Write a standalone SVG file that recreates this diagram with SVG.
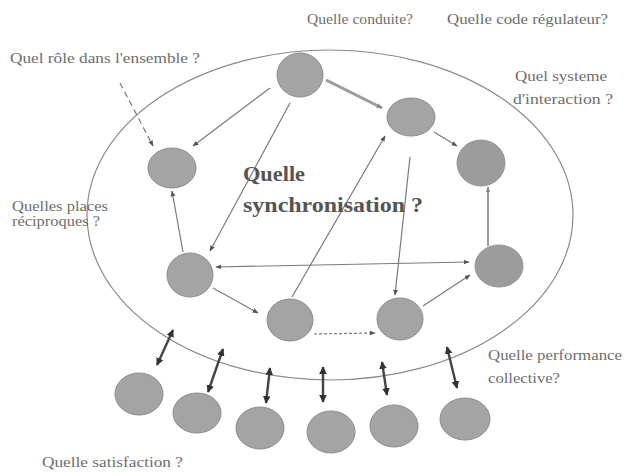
<svg xmlns="http://www.w3.org/2000/svg" width="627" height="476" viewBox="0 0 627 476">
<style>
text{font-family:'Liberation Serif','DejaVu Serif',serif}
.lbl{font-size:14px;fill:#6e6e6e}
.big{font-size:20px;font-weight:bold;fill:#555}
.nd{fill:#a4a4a4;stroke:#8c8c8c;stroke-width:1}
.nf{fill:#9c9c9c;stroke:#959595;stroke-width:1}
.ln{stroke:#7a7a7a;stroke-width:1.2;fill:none;marker-end:url(#ah)}
.dbl{stroke:#444;stroke-width:2.4;fill:none;marker-start:url(#ad);marker-end:url(#ad)}
</style>
<defs>
<marker id="ah" viewBox="0 0 10 10" refX="9" refY="5" markerWidth="5" markerHeight="5" orient="auto-start-reverse" markerUnits="strokeWidth">
<path d="M0,1 L10,5 L0,9 Z" fill="#555"/>
</marker>
<marker id="ahs" viewBox="0 0 10 10" refX="9" refY="5" markerWidth="6" markerHeight="6" orient="auto" markerUnits="userSpaceOnUse">
<path d="M0,1 L10,5 L0,9 Z" fill="#8a8a8a"/>
</marker>
<marker id="ad" viewBox="0 0 10 10" refX="9" refY="5" markerWidth="3.2" markerHeight="3.2" orient="auto-start-reverse" markerUnits="strokeWidth">
<path d="M0,0 L10,5 L0,10 Z" fill="#333"/>
</marker>
</defs>
<rect width="627" height="476" fill="#fff"/>
<ellipse cx="330" cy="215" rx="243" ry="165" fill="none" stroke="#8a8a8a" stroke-width="1.2"/>
<g id="connectors">
<line x1="326" y1="80" x2="382" y2="108" stroke="#9a9a9a" stroke-width="3" marker-end="url(#ahs)"/>
<line class="ln" x1="270" y1="88" x2="193" y2="146"/>
<line class="ln" x1="290" y1="103" x2="210" y2="251"/>
<line class="ln" x1="120" y1="83" x2="153" y2="146" stroke-dasharray="6,4"/>
<line class="ln" x1="183" y1="252" x2="172" y2="191"/>
<line class="ln" x1="216" y1="267" x2="469" y2="262" marker-start="url(#ah)"/>
<line class="ln" x1="213" y1="288" x2="258" y2="313"/>
<line class="ln" x1="314" y1="334" x2="375" y2="333" stroke-dasharray="3,2"/>
<line class="ln" x1="423" y1="306" x2="470" y2="275"/>
<line class="ln" x1="292" y1="297" x2="385" y2="136"/>
<line class="ln" x1="410" y1="157" x2="395" y2="295"/>
<line class="ln" x1="434" y1="132" x2="457" y2="146"/>
<line x1="488" y1="246" x2="488" y2="187" stroke="#9a9a9a" stroke-width="2" marker-end="url(#ahs)"/>
<line class="dbl" x1="157" y1="365" x2="173" y2="330"/>
<line class="dbl" x1="208" y1="392" x2="223" y2="349"/>
<line class="dbl" x1="266" y1="403" x2="270" y2="368"/>
<line class="dbl" x1="323" y1="402" x2="323" y2="367"/>
<line class="dbl" x1="387" y1="395" x2="382" y2="362"/>
<line class="dbl" x1="457" y1="388" x2="447" y2="347"/>
</g>
<g id="n1"><ellipse class="nd" cx="300" cy="75" rx="23" ry="22"/></g>
<g id="n2"><ellipse class="nd" cx="411" cy="117" rx="24" ry="19"/></g>
<g id="n3"><ellipse class="nf" cx="481" cy="163" rx="24" ry="23"/></g>
<g id="n4"><ellipse class="nd" cx="172" cy="168" rx="24" ry="20"/></g>
<g id="n5"><ellipse class="nd" cx="190" cy="275" rx="23" ry="22"/></g>
<g id="n6"><ellipse class="nf" cx="499" cy="266" rx="24" ry="21"/></g>
<g id="n7"><ellipse class="nd" cx="290" cy="320" rx="23" ry="21"/></g>
<g id="n8"><ellipse class="nd" cx="400" cy="319" rx="23" ry="21"/></g>
<g id="b1"><ellipse class="nd" cx="139" cy="394" rx="24" ry="21"/></g>
<g id="b2"><ellipse class="nd" cx="197" cy="413" rx="24" ry="20"/></g>
<g id="b3"><ellipse class="nd" cx="260" cy="428" rx="24" ry="21"/></g>
<g id="b4"><ellipse class="nd" cx="331" cy="432" rx="24" ry="21"/></g>
<g id="b5"><ellipse class="nd" cx="394" cy="426" rx="24" ry="21"/></g>
<g id="b6"><ellipse class="nd" cx="465" cy="419" rx="25" ry="21"/></g>
<g id="labels">
<text class="lbl" x="307" y="24" textLength="106" lengthAdjust="spacingAndGlyphs">Quelle conduite?</text>
<text class="lbl" x="447" y="24" textLength="161" lengthAdjust="spacingAndGlyphs">Quelle code régulateur?</text>
<text class="lbl" x="515" y="81" textLength="92" lengthAdjust="spacingAndGlyphs">Quel systeme</text>
<text class="lbl" x="513" y="104" textLength="100" lengthAdjust="spacingAndGlyphs">d'interaction ?</text>
<text class="lbl" x="10" y="63" textLength="190" lengthAdjust="spacingAndGlyphs">Quel rôle dans l'ensemble ?</text>
<text class="lbl" x="12" y="211" textLength="96" lengthAdjust="spacingAndGlyphs">Quelles places</text>
<text class="lbl" x="12" y="226" textLength="88" lengthAdjust="spacingAndGlyphs">réciproques ?</text>
<text class="big" x="243" y="181" textLength="62" lengthAdjust="spacingAndGlyphs">Quelle</text>
<text class="big" x="243" y="212" textLength="180" lengthAdjust="spacingAndGlyphs">synchronisation ?</text>
<text class="lbl" x="488" y="360" textLength="134" lengthAdjust="spacingAndGlyphs">Quelle performance</text>
<text class="lbl" x="488" y="383" textLength="72" lengthAdjust="spacingAndGlyphs">collective?</text>
<text class="lbl" x="42" y="467" textLength="141" lengthAdjust="spacingAndGlyphs">Quelle satisfaction ?</text>
</g>
</svg>
